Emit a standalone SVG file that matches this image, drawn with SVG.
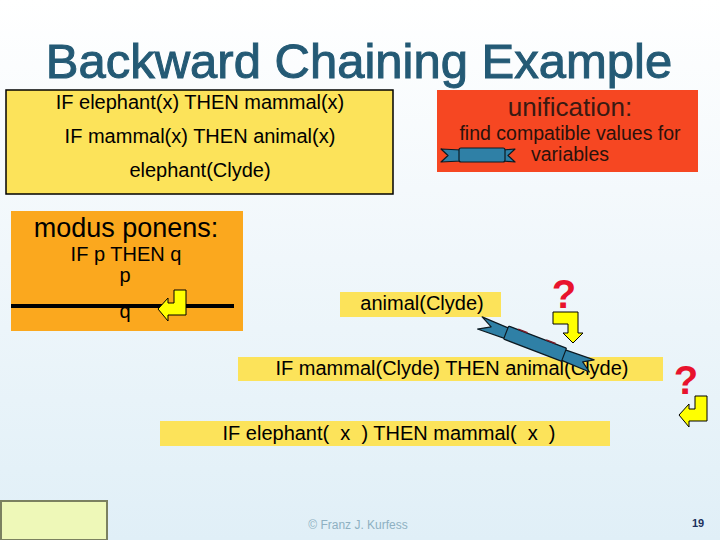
<svg xmlns="http://www.w3.org/2000/svg" width="720" height="540" viewBox="0 0 720 540">
<defs>
<linearGradient id="bg" x1="0" y1="0" x2="0" y2="1">
<stop offset="0" stop-color="#ffffff"/>
<stop offset="0.35" stop-color="#f4f9fc"/>
<stop offset="1" stop-color="#e0eff7"/>
</linearGradient>
<polygon id="bentLeft" points="174,290 186,290 186,315 168,315 168,321 158,309 168,298 168,303 174,303"/>
</defs>
<style>
text{font-family:"Liberation Sans",Arial,sans-serif;}
.t20{font-size:20px;fill:#000;text-anchor:middle;}
.yb{fill:#fce35a;}
.arrow{fill:#ffff00;stroke:#000;stroke-width:1;stroke-linejoin:miter;}
.q{font-size:40px;font-weight:bold;fill:#e8132d;text-anchor:middle;}
.rib{fill:#2f80a6;stroke:#0d1a22;stroke-width:1.2;stroke-linejoin:round;}
</style>
<rect x="0" y="0" width="720" height="540" fill="url(#bg)"/>
<text x="359" y="78" text-anchor="middle" font-size="49" fill="#245a75" stroke="#245a75" stroke-width="1" style="font-family:'Liberation Sans',Arial,sans-serif">Backward Chaining Example</text>

<g id="knowledge">
<rect x="6" y="90" width="387" height="104" fill="#fce35a" stroke="#000" stroke-width="1.5"/>
<text class="t20" x="200" y="109">IF elephant(x) THEN mammal(x)</text>
<text class="t20" x="200" y="143">IF mammal(x) THEN animal(x)</text>
<text class="t20" x="200" y="177">elephant(Clyde)</text>
</g>

<g id="unification">
<rect x="437" y="90" width="261" height="82" fill="#f64722"/>
<text x="570" y="116" text-anchor="middle" font-size="26" fill="#3a1a12">unification:</text>
<text x="570" y="140" text-anchor="middle" font-size="19.5" fill="#2a120c">find compatible values for</text>
<text x="570" y="161" text-anchor="middle" font-size="19.5" fill="#2a120c">variables</text>
<g class="rib">
<polygon points="441,149 461,150 461,161 441,162 448,155.5"/>
<polygon points="503,150 515,149 508,155.5 515,162 503,161"/>
<rect x="459" y="148" width="46" height="14" rx="2"/>
</g>
</g>

<g id="modus-ponens">
<rect x="11" y="211" width="232" height="120" fill="#fba81e"/>
<text x="126" y="237" text-anchor="middle" font-size="27" fill="#000">modus ponens:</text>
<text class="t20" x="126" y="261">IF p THEN q</text>
<text class="t20" x="125" y="282">p</text>
<line x1="11" y1="306" x2="234" y2="306" stroke="#000" stroke-width="4"/>
<text class="t20" x="125" y="318">q</text>
<use href="#bentLeft" class="arrow"/>
</g>

<g id="goal-animal">
<rect x="340" y="292" width="161" height="25" class="yb"/>
<text class="t20" x="422" y="310">animal(Clyde)</text>
</g>

<g id="rule-mammal-animal">
<rect x="238" y="357" width="425" height="24" class="yb"/>
<text class="t20" x="452" y="375">IF mammal(Clyde) THEN animal(Clyde)</text>
</g>

<g id="rule-elephant-mammal">
<rect x="160" y="421" width="450" height="25" class="yb"/>
<text class="t20" x="389" y="440" xml:space="preserve">IF elephant(  x  ) THEN mammal(  x  )</text>
</g>

<g id="connectors">
<text class="q" x="564" y="308" font-size="42">?</text>
<polygon class="arrow" points="553,312 578,312 578,333 583,333 573,343 563,333 568,333 568,324 553,324"/>
<g transform="translate(536,344) rotate(21)">
<g class="rib">
<polygon points="-60,-6 -30,-5 -30,6 -60,7 -48,0"/>
<polygon points="28,-5 60,-6 50,0 60,7 28,6"/>
<rect x="-32" y="-7" width="62" height="14" rx="1"/>
</g>
<line x1="-22" y1="-7.5" x2="-12" y2="-7.5" stroke="#7a1d2a" stroke-width="1.5"/>
<line x1="8" y1="-7.5" x2="18" y2="-7.5" stroke="#7a1d2a" stroke-width="1.5"/>
</g>
<text class="q" x="686" y="394" font-size="39">?</text>
<use href="#bentLeft" class="arrow" transform="translate(521,106)"/>
</g>

<g id="footer">
<rect x="1" y="501" width="106" height="39" fill="#eef8b8" stroke="#7b8160" stroke-width="2"/>
<text x="358" y="529" text-anchor="middle" font-size="12" fill="#8eb0c2">© Franz J. Kurfess</text>
<text x="698" y="527" text-anchor="middle" font-size="11" font-weight="bold" fill="#1b2f5c">19</text>
</g>
</svg>
